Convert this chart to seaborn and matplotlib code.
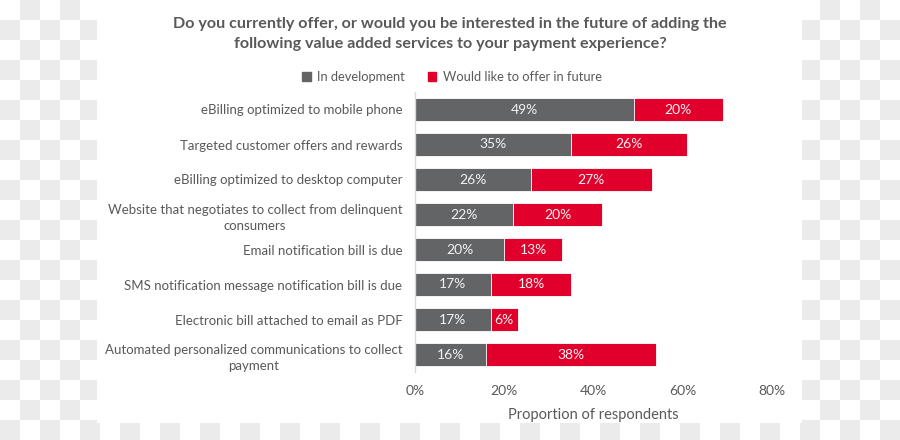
import numpy as np
import pandas as pd
import matplotlib
matplotlib.use("Agg")
import matplotlib.pyplot as plt
from matplotlib.patches import Patch
import seaborn as sns

categories = [
    "eBilling optimized to mobile phone",
    "Targeted customer offers and rewards",
    "eBilling optimized to desktop computer",
    "Website that negotiates to collect from delinquent\nconsumers",
    "Email notification bill is due",
    "SMS notification message notification bill is due",
    "Electronic bill attached to email as PDF",
    "Automated personalized communications to collect\npayment",
]
in_development = [49, 35, 26, 22, 20, 17, 17, 16]
future_offer = [20, 26, 27, 20, 13, 18, 6, 38]
x_ticks = [0, 20, 40, 60, 80]
x_tick_labels = ["0%", "20%", "40%", "60%", "80%"]

title = ("Do you currently offer, or would you be interested in the future of adding the\n"
         "following value added services to your payment experience?")
series_names = ["In development", "Would like to offer in future"]

GRAY = "#636466"
RED = "#E0002B"
TXT = "#595959"

sns.set_theme(style="white")
plt.rcParams["font.family"] = ["Lato", "DejaVu Sans"]

df = pd.DataFrame({
    "category": categories,
    "dev": in_development,
    "fut": future_offer,
})
df["total"] = df["dev"] + df["fut"]

W, H = 900, 440
fig = plt.figure(figsize=(9, 4.4), dpi=100)

# transparency checkerboard backdrop
yy, xx = np.mgrid[0:H, 0:W]
cell = ((xx // 20) + (yy // 20)) % 2
bg = np.ones((H, W, 3))
bg[cell == 1] = 0.925
white = (xx >= 97) & (xx < 802) & (yy < 423)
bg[white] = 1.0
fig.figimage(bg, xo=0, yo=0, zorder=-1, origin="upper")
fig.patch.set_alpha(0)

ax = fig.add_axes([415 / W, 1 - 372 / H, (772 - 415) / W, (372 - 92) / H])
ax.set_facecolor("none")

sns.barplot(data=df, x="total", y="category", color=RED, orient="h",
            width=0.66, ax=ax, saturation=1, edgecolor="white", linewidth=0.6)
sns.barplot(data=df, x="dev", y="category", color=GRAY, orient="h",
            width=0.66, ax=ax, saturation=1, edgecolor="white", linewidth=0.6)

for i, (d, f) in enumerate(zip(df["dev"], df["fut"])):
    ax.text(d / 2, i, f"{d}%", ha="center", va="center", color="#f2f2f2", fontsize=10)
    ax.text(d + f / 2, i, f"{f}%", ha="center", va="center", color="#f2f2f2", fontsize=10)

ax.set_xlim(0, 80)
ax.set_ylim(7.5, -0.5)
ax.set_xticks(x_ticks)
ax.set_xticklabels(x_tick_labels)
ax.tick_params(axis="x", length=0, pad=9, labelsize=10, labelcolor=TXT)
ax.tick_params(axis="y", length=0, pad=9, labelsize=9.5, labelcolor=TXT)
ax.set_yticks(range(len(categories)), categories, multialignment="center",
              linespacing=1.45, fontsize=9.5, color=TXT)
ax.set_ylabel("")
ax.set_xlabel("Proportion of respondents", fontsize=10.5, color=TXT, labelpad=8)
for s in ["top", "right", "bottom"]:
    ax.spines[s].set_visible(False)
ax.spines["left"].set_color("#d9d9d9")
ax.spines["left"].set_linewidth(1)

fig.text(450 / W, 1 - 34 / H, title, ha="center", va="center", fontsize=11.6,
         fontweight="bold", color=TXT, linespacing=1.55)

handles = [Patch(color=GRAY), Patch(color=RED)]
fig.legend(handles, series_names, loc="center", bbox_to_anchor=(452 / W, 1 - 77 / H),
           ncol=2, frameon=False, fontsize=9.3, labelcolor=TXT,
           handlelength=0.65, handleheight=0.65, handletextpad=0.5, columnspacing=1.8)

fig.savefig("out.png", dpi=100)
